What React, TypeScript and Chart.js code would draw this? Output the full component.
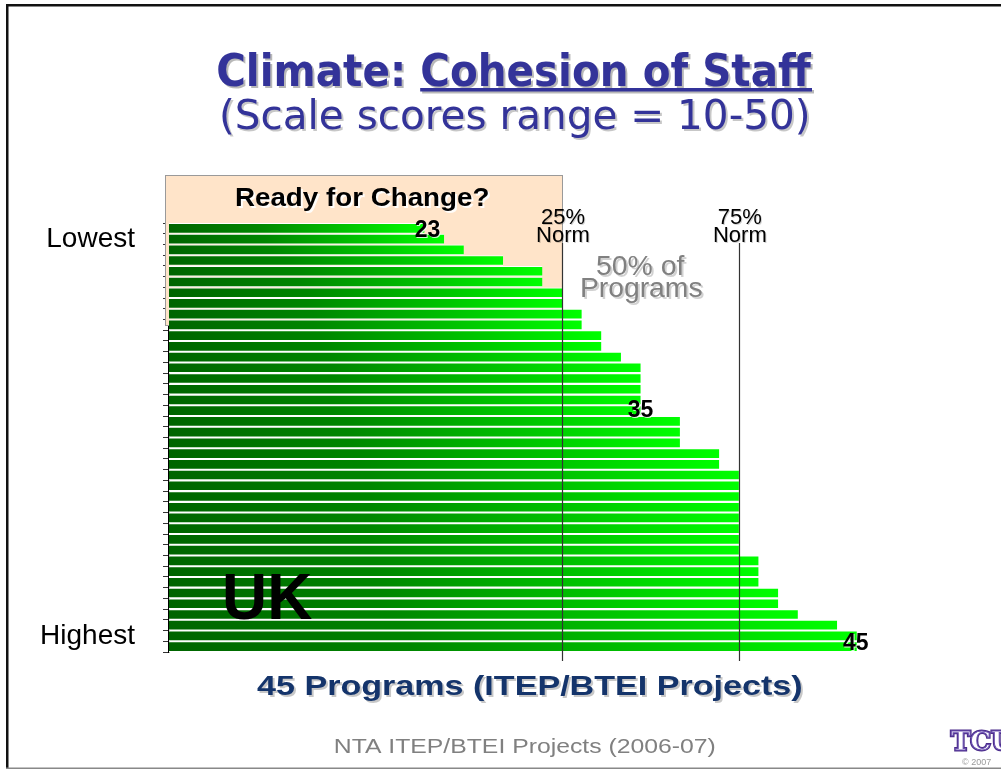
import React, { useEffect, useRef } from "react";
import { Chart, registerables } from "chart.js";

Chart.register(...registerables);

// ---- data ----
const scores = [
  23, 24, 25, 27, 29, 29, 30, 30, 31, 31, 32, 32, 33, 34, 34, 34, 34, 34, 36, 36,
  36, 38, 38, 39, 39, 39, 39, 39, 39, 39, 39, 40, 40, 40, 41, 41, 42, 44, 45, 45,
];
const programs = scores.map((_, i) => `Program ${i + 1}`);
const axisEndLabels = ["Lowest", "Highest"];
const scaleMin = 10;
const scaleMax = 50;
const normValues = [30, 39];
const normLabels = ["25%", "75%"];
const markerTexts = ["23", "35", "45"];
const markerBars = [0, 17, 39];

const titleMain = "Climate: ";
const titleUnder = "Cohesion of Staff";
const subtitle = "(Scale scores range = 10-50)";
const boxTitle = "Ready for Change?";
const middleNote = ["50% of", "Programs"];
const countryText = "UK";
const bottomLabel = "45 Programs (ITEP/BTEI Projects)";
const footerText = "NTA ITEP/BTEI Projects (2006-07)";

type Shadow = { color: string; dx: number; dy: number; blur?: number };

function drawFitted(
  ctx: CanvasRenderingContext2D,
  text: string,
  left: number,
  right: number,
  baseline: number,
  font: string,
  color: string,
  shadow?: Shadow
) {
  ctx.save();
  ctx.font = font;
  const m = ctx.measureText(text);
  const abl = m.actualBoundingBoxLeft || 0;
  const abr = m.actualBoundingBoxRight || m.width;
  const inkW = abl + abr;
  const sx = (right - left) / inkW;
  ctx.translate(left + abl * sx, baseline);
  ctx.scale(sx, 1);
  ctx.textAlign = "left";
  ctx.textBaseline = "alphabetic";
  if (shadow) {
    ctx.shadowColor = shadow.color;
    ctx.shadowOffsetX = shadow.dx;
    ctx.shadowOffsetY = shadow.dy;
    ctx.shadowBlur = shadow.blur || 0;
  }
  ctx.fillStyle = color;
  ctx.fillText(text, 0, 0);
  ctx.restore();
  return sx;
}

function drawCentered(
  ctx: CanvasRenderingContext2D,
  text: string,
  cx: number,
  baseline: number,
  font: string,
  color: string,
  shadow?: Shadow
) {
  ctx.save();
  ctx.font = font;
  ctx.textAlign = "center";
  ctx.textBaseline = "alphabetic";
  if (shadow) {
    ctx.shadowColor = shadow.color;
    ctx.shadowOffsetX = shadow.dx;
    ctx.shadowOffsetY = shadow.dy;
    ctx.shadowBlur = shadow.blur || 0;
  }
  ctx.fillStyle = color;
  ctx.fillText(text, cx, baseline);
  ctx.restore();
}

const SANS = '"Liberation Sans", Arial, sans-serif';
const TITLE_FONT = '"DejaVu Sans", Verdana, sans-serif';

const decorPlugin = {
  id: "decor",
  beforeDatasetsDraw(chart: any) {
    const ctx: CanvasRenderingContext2D = chart.ctx;
    const x = chart.scales.x;
    const right = x.getPixelForValue(normValues[0]);
    ctx.save();
    ctx.fillStyle = "#FFE4C9";
    ctx.fillRect(165, 175, right - 165, 150);
    ctx.strokeStyle = "#9a9a9a";
    ctx.lineWidth = 1;
    ctx.strokeRect(165.5, 175.5, right - 165, 150);
    ctx.restore();
  },
  afterDatasetsDraw(chart: any) {
    const ctx: CanvasRenderingContext2D = chart.ctx;
    const x = chart.scales.x;
    const y = chart.scales.y;

    // norm lines
    ctx.save();
    ctx.strokeStyle = "#333";
    ctx.lineWidth = 1.2;
    normValues.forEach((v) => {
      const px = Math.round(x.getPixelForValue(v)) + 0.5;
      ctx.beginPath();
      ctx.moveTo(px, 243);
      ctx.lineTo(px, 661);
      ctx.stroke();
    });
    ctx.restore();

    const textShadow: Shadow = { color: "rgba(0,0,0,0.18)", dx: 1, dy: 1 };
    normValues.forEach((v, i) => {
      const cx = x.getPixelForValue(v) + 1;
      drawCentered(ctx, normLabels[i], cx, 224, `22px ${SANS}`, "#000", textShadow);
      drawCentered(ctx, "Norm", cx, 242, `22px ${SANS}`, "#000", textShadow);
    });

    // box title
    drawFitted(ctx, boxTitle, 236, 488, 206, `bold 25px ${SANS}`, "#000", {
      color: "rgba(255,255,255,0.9)",
      dx: 2,
      dy: 2,
    });

    // 50% of programs
    drawFitted(ctx, middleNote[0], 597, 685, 275, `27px ${SANS}`, "#808080", {
      color: "rgba(0,0,0,0.18)",
      dx: 2,
      dy: 2,
    });
    drawFitted(ctx, middleNote[1], 582, 702, 297, `27px ${SANS}`, "#808080", {
      color: "rgba(0,0,0,0.18)",
      dx: 2,
      dy: 2,
    });

    // markers
    const dys = [9, 6, 3];
    const dxs = [3, 0, -1];
    markerBars.forEach((bi, k) => {
      const cx = x.getPixelForValue(scores[bi]) + dxs[k];
      const by = y.getPixelForValue(bi) + dys[k];
      drawCentered(ctx, markerTexts[k], cx, by, `bold 23px ${SANS}`, "#000", {
        color: "rgba(255,255,255,0.8)",
        dx: 1,
        dy: 1,
      });
    });

    // UK
    drawFitted(ctx, countryText, 225, 312, 619, `bold 64px ${SANS}`, "#000");
  },
  afterDraw(chart: any) {
    const ctx: CanvasRenderingContext2D = chart.ctx;

    // title
    const tShadow: Shadow = { color: "rgba(0,0,0,0.28)", dx: 2, dy: 2 };
    const full = titleMain + titleUnder;
    const left = 218;
    const rightT = 812;
    const sx = drawFitted(ctx, full, left, rightT, 86, `bold 44px ${TITLE_FONT}`, "#333399", tShadow);
    ctx.save();
    ctx.font = `bold 44px ${TITLE_FONT}`;
    const mFull = ctx.measureText(full);
    const mMain = ctx.measureText(titleMain);
    const abl = mFull.actualBoundingBoxLeft || 0;
    const startX = left + abl * sx + mMain.width * sx;
    ctx.shadowColor = tShadow.color;
    ctx.shadowOffsetX = 2;
    ctx.shadowOffsetY = 2;
    ctx.fillStyle = "#333399";
    ctx.fillRect(startX, 88, rightT - startX, 3.5);
    ctx.restore();

    drawFitted(ctx, subtitle, 222, 808, 129, `40px ${TITLE_FONT}`, "#333399", {
      color: "rgba(0,0,0,0.22)",
      dx: 2,
      dy: 2,
    });

    // bottom axis label
    drawFitted(ctx, bottomLabel, 257, 801, 695, `bold 28px ${SANS}`, "#14346B", {
      color: "rgba(0,0,0,0.22)",
      dx: 2,
      dy: 2,
    });

    // footer
    drawFitted(ctx, footerText, 335, 715, 753, `20px ${SANS}`, "#808080");

    // logo
    ctx.save();
    ctx.font = 'bold 26px "DejaVu Serif", serif';
    ctx.textAlign = "left";
    ctx.textBaseline = "alphabetic";
    ctx.lineWidth = 3;
    ctx.strokeStyle = "#4B2C8A";
    ctx.strokeText("TCU", 951, 750);
    ctx.fillStyle = "#ffffff";
    ctx.fillText("TCU", 951, 750);
    ctx.lineWidth = 1;
    ctx.strokeStyle = "#6a4fb0";
    ctx.strokeText("TCU", 951, 750);
    ctx.font = `9px ${SANS}`;
    ctx.fillStyle = "#9a9a9a";
    ctx.fillText("\u00A9 2007", 962, 765);
    ctx.restore();

    // slide frame
    ctx.save();
    ctx.fillStyle = "#111";
    ctx.fillRect(6, 4, 995, 2.5);
    ctx.fillRect(6, 4, 2.5, 765);
    ctx.fillStyle = "#888";
    ctx.fillRect(6, 767.5, 995, 1.5);
    ctx.restore();
  },
};

export default function App() {
  const canvasRef = useRef<HTMLCanvasElement | null>(null);

  useEffect(() => {
    const canvas = canvasRef.current;
    if (!canvas) return;
    const chart = new Chart(canvas, {
      type: "bar",
      data: {
        labels: programs,
        datasets: [
          {
            data: scores,
            barThickness: 10,
            borderWidth: { top: 1, bottom: 1, left: 0, right: 0 },
            borderColor: "#ffffff",
            borderSkipped: false,
            backgroundColor: (c: any) => {
              const ch = c.chart;
              const xs = ch.scales && ch.scales.x;
              if (!ch.chartArea || !xs || !c.parsed) return "#00a000";
              const x0 = xs.getPixelForValue(scaleMin);
              const x1 = xs.getPixelForValue(c.parsed.x);
              if (!isFinite(x0) || !isFinite(x1) || x1 <= x0) return "#00a000";
              const g = ch.ctx.createLinearGradient(x0, 0, x1, 0);
              g.addColorStop(0, "#006400");
              g.addColorStop(0.35, "#008600");
              g.addColorStop(0.7, "#00C400");
              g.addColorStop(1, "#00FF00");
              return g;
            },
          } as any,
        ],
      },
      options: {
        indexAxis: "y",
        animation: false,
        responsive: false,
        events: [],
        layout: { padding: { left: 0, right: 46, top: 223, bottom: 118 } },
        plugins: {
          legend: { display: false },
          tooltip: { enabled: false },
          title: { display: false },
        },
        scales: {
          x: {
            type: "linear",
            min: scaleMin,
            max: scaleMax,
            display: false,
          },
          y: {
            type: "category",
            offset: true,
            grid: {
              offset: true,
              drawOnChartArea: false,
              drawTicks: true,
              tickLength: 6,
              color: "#333",
            },
            border: { display: true, color: "#000", width: 1.3 },
            ticks: {
              autoSkip: false,
              padding: 28,
              color: "#000",
              font: { family: SANS, size: 28 },
              callback: (_v: any, i: number) =>
                i === 1 ? axisEndLabels[0] : i === scores.length - 2 ? axisEndLabels[1] : "",
            },
            afterFit: (s: any) => {
              s.width = 169;
            },
          },
        },
      } as any,
      plugins: [decorPlugin],
    });
    return () => chart.destroy();
  }, []);

  return (
    <div
      style={{
        position: "fixed",
        left: 0,
        top: 0,
        width: 1001,
        height: 770,
        background: "#fff",
        overflow: "hidden",
      }}
    >
      <canvas ref={canvasRef} width={1001} height={770} style={{ display: "block" }} />
    </div>
  );
}
